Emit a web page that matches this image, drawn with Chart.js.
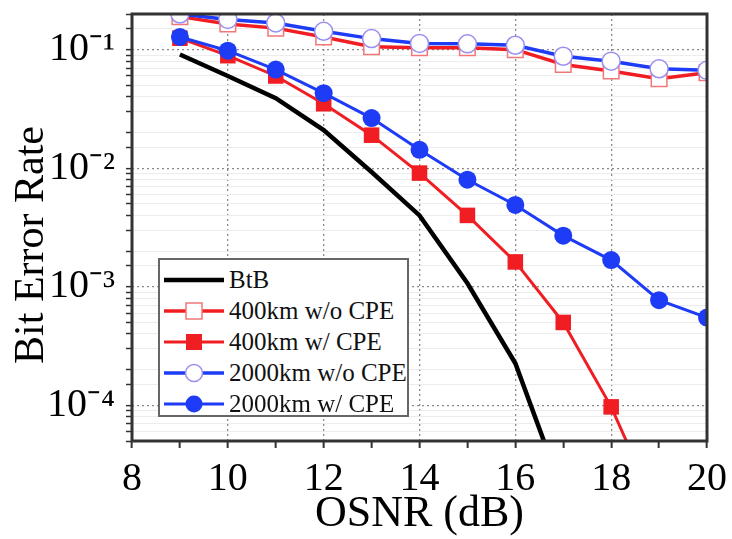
<!DOCTYPE html>
<html>
<head>
<meta charset="utf-8">
<script src="https://cdn.jsdelivr.net/npm/chart.js@4/dist/chart.umd.min.js"></script>
<style>
  html, body { margin: 0; padding: 0; background: #fff; }
  #wrap { position: relative; width: 732px; height: 539px; }
  #legend {
    position: absolute; left: 158px; top: 258px; width: 247px; height: 155px;
    border: 2px solid #666; background: #fff; box-sizing: content-box;
    font-family: 'Liberation Serif', 'Times New Roman', serif; font-size: 25px; color: #111;
  }
  .row { position: absolute; left: 0; height: 30px; width: 100%; }
  .row canvas { position: absolute; left: 2px; top: 0; }
  .row span { position: absolute; left: 69px; top: 0; line-height: 30px; white-space: nowrap; letter-spacing: 0px; }
</style>
</head>
<body>
<div id="wrap">
  <canvas id="c" width="732" height="539"></canvas>
  <div id="legend"></div>
</div>
<script>
// ---- data ----
const osnr = [9, 10, 11, 12, 13, 14, 15, 16, 17, 18, 19, 20];
const btb = [0.091, 0.060, 0.039, 0.021, 0.0093, 0.0040, 0.00107, 0.000226, 0.000018];
const km400NoCPE = [0.19, 0.165, 0.152, 0.128, 0.106, 0.104, 0.104, 0.100, 0.075, 0.066, 0.057, 0.064];
const km400CPE = [0.125, 0.089, 0.060, 0.035, 0.019, 0.0091, 0.0040, 0.00162, 0.00050, 0.000097, 0.000012];
const km2000NoCPE = [0.20, 0.18, 0.168, 0.143, 0.124, 0.113, 0.112, 0.109, 0.088, 0.080, 0.069, 0.067];
const km2000CPE = [0.128, 0.098, 0.068, 0.043, 0.0265, 0.0143, 0.0080, 0.0049, 0.0027, 0.00168, 0.00077, 0.00055];
const seriesNames = ['BtB', '400km w/o CPE', '400km w/ CPE', '2000km w/o CPE', '2000km w/ CPE'];
const xTicks = [8, 10, 12, 14, 16, 18, 20];

const RED = '#f01e23';
const BLUE = '#1e3cf5';

function pts(vals) { return vals.map((v, i) => ({ x: osnr[i], y: v })); }

const supMap = { '-': '\u207B', '0': '\u2070', '1': '\u00B9', '2': '\u00B2', '3': '\u00B3', '4': '\u2074', '5': '\u2075', '6': '\u2076', '7': '\u2077', '8': '\u2078', '9': '\u2079' };
function isDecade(v) { const l = Math.log10(v); return Math.abs(l - Math.round(l)) < 1e-6; }

const styles = [
  { data: btb, color: '#000', width: 4.5, radius: 0, style: 'circle', fill: '#000', order: 3 },
  { data: km400NoCPE, color: RED, width: 3.5, radius: 11, style: 'rect', fill: '#fff', order: 2, bw: 1.5, bc: '#f07878' },
  { data: km400CPE, color: RED, width: 3, radius: 11, style: 'rect', fill: RED, order: 2 },
  { data: km2000NoCPE, color: BLUE, width: 3.5, radius: 9, style: 'circle', fill: '#fff', order: 1, bw: 1.5, bc: '#9a8ff0' },
  { data: km2000CPE, color: BLUE, width: 3, radius: 9, style: 'circle', fill: BLUE, order: 1 }
];

const datasets = styles.map((s, i) => ({
  label: seriesNames[i],
  data: pts(s.data),
  borderColor: s.color,
  borderWidth: s.width,
  pointRadius: s.radius,
  pointStyle: s.style,
  pointBackgroundColor: s.fill,
  pointBorderColor: s.bc || s.color,
  pointBorderWidth: s.bw || 0,
  tension: 0,
  clip: 0,
  order: s.order
}));

const framePlugin = {
  id: 'frame',
  afterDatasetsDraw(chart) {
    const { ctx, chartArea: a } = chart;
    ctx.save();
    ctx.strokeStyle = '#333';
    ctx.lineWidth = 3;
    ctx.strokeRect(a.left, a.top, a.right - a.left, a.bottom - a.top);
    ctx.restore();
  }
};

new Chart(document.getElementById('c'), {
  type: 'line',
  data: { datasets },
  plugins: [framePlugin],
  options: {
    responsive: false,
    animation: false,
    layout: { padding: { left: 0, top: 14, right: 25, bottom: 0 } },
    plugins: { legend: { display: false }, tooltip: { enabled: false } },
    scales: {
      x: {
        type: 'linear', min: 8, max: 20,
        afterFit(s) { s.height = 98; s.paddingLeft = 0; s.paddingRight = 0; },
        afterBuildTicks(s) { s.ticks = [8].concat(osnr).map(v => ({ value: v })); },
        ticks: {
          autoSkip: false, padding: 7, color: '#000',
          font: { family: 'Liberation Serif', size: 40 },
          callback: v => xTicks.includes(v) ? String(v) : ''
        },
        grid: {
          drawTicks: true, tickLength: 7, tickWidth: 2, tickColor: '#333',
          lineWidth: 1.3,
          color: c => (c.tick && xTicks.includes(c.tick.value) && c.tick.value !== 8 && c.tick.value !== 20) ? '#8a8a8a' : 'rgba(0,0,0,0)'
        },
        border: { display: false, dash: [2, 3] },
        title: {
          display: true, text: 'OSNR (dB)', color: '#000',
          font: { family: 'Liberation Serif', size: 44, lineHeight: 1 },
          padding: { top: 0, bottom: 3 }
        }
      },
      y: {
        type: 'logarithmic', min: 5e-5, max: 0.2,
        afterFit(s) { s.width = 132; s.paddingTop = 0; s.paddingBottom = 0; },
        ticks: {
          autoSkip: false, padding: 11, color: '#000',
          font: { family: 'Liberation Serif', size: 40 },
          callback: v => {
            if (!isDecade(v)) return '';
            const e = String(Math.round(Math.log10(v)));
            return '10' + e.split('').map(ch => supMap[ch]).join('');
          }
        },
        grid: {
          drawTicks: true, tickLength: 6, tickWidth: 1.5, tickColor: '#333',
          lineWidth: c => (c.tick && isDecade(c.tick.value)) ? 1.3 : 1,
          color: c => (c.tick && isDecade(c.tick.value)) ? '#8a8a8a' : '#ececec'
        },
        border: { display: false, dash: c => (c.tick && isDecade(c.tick.value)) ? [2, 3] : [] },
        title: {
          display: true, text: 'Bit Error Rate   \u200A', color: '#000',
          font: { family: 'Liberation Serif', size: 42, lineHeight: 1 },
          padding: { top: 11, bottom: 0 }
        }
      }
    }
  }
});

// HTML legend
const legend = document.getElementById('legend');
const rowTops = [5, 36, 67, 98, 129];
styles.forEach((s, i) => {
  const row = document.createElement('div');
  row.className = 'row';
  row.style.top = rowTops[i] + 'px';
  const cv = document.createElement('canvas');
  cv.width = 64; cv.height = 30;
  const g = cv.getContext('2d');
  g.strokeStyle = s.color; g.lineWidth = s.width;
  g.beginPath(); g.moveTo(2, 15); g.lineTo(62, 15); g.stroke();
  if (s.radius) {
    g.fillStyle = s.fill; g.strokeStyle = s.bc || s.color; g.lineWidth = s.bw || 0;
    if (s.style === 'rect') {
      g.fillRect(24, 7, 16, 16);
      if (s.bw) g.strokeRect(24, 7, 16, 16);
    } else {
      g.beginPath(); g.arc(32, 15, 8.5, 0, Math.PI * 2); g.fill();
      if (s.bw) g.stroke();
    }
  }
  row.appendChild(cv);
  const t = document.createElement('span');
  t.textContent = seriesNames[i];
  row.appendChild(t);
  legend.appendChild(row);
});
</script>
</body>
</html>
